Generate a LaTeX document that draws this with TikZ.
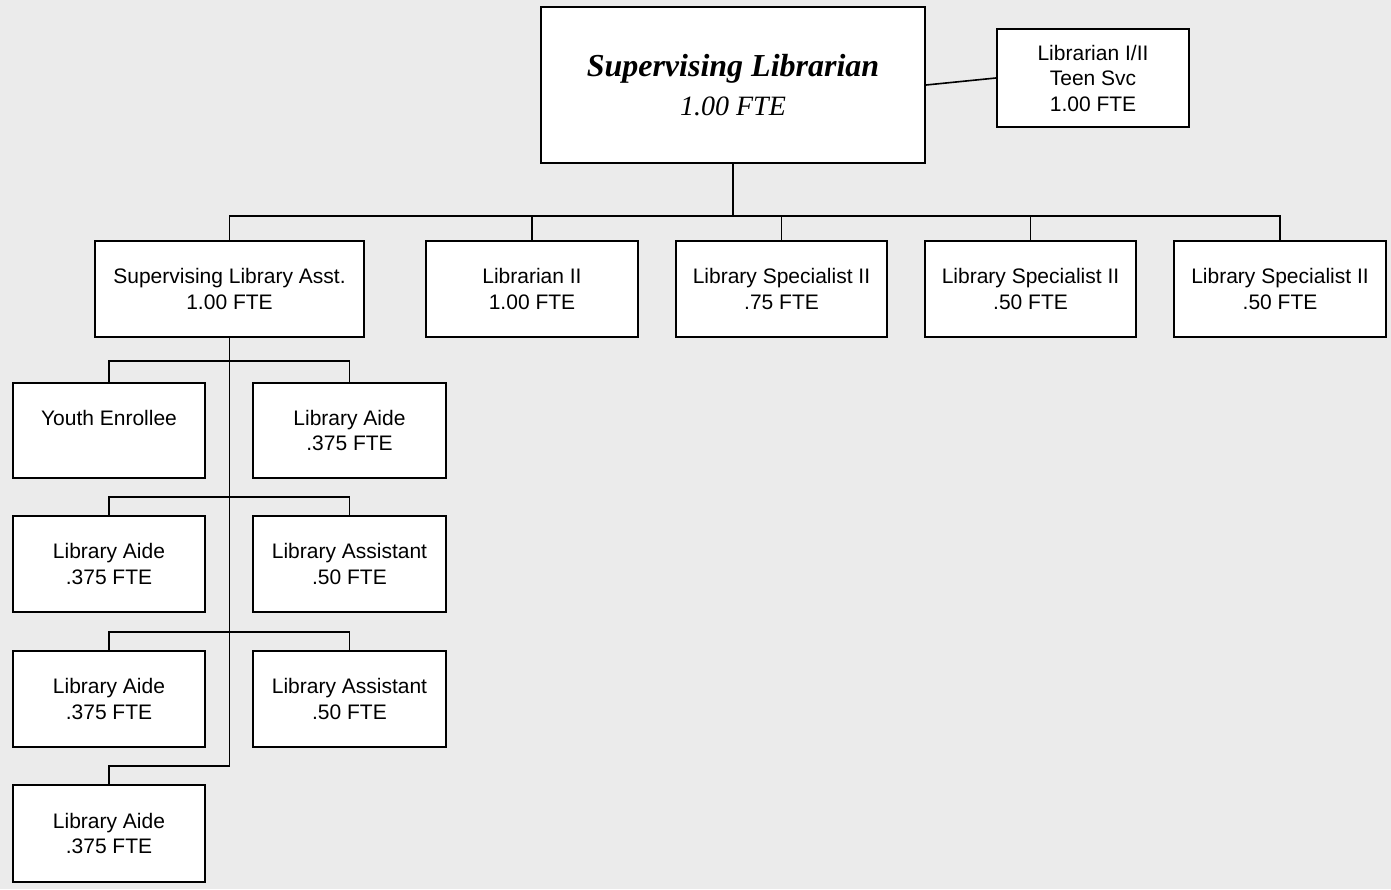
\documentclass[tikz,border=0pt]{standalone}
\usepackage{fontspec}
\setmainfont{Liberation Sans}
\newfontfamily\titleserif{Liberation Serif}
\begin{document}
\begin{tikzpicture}[x=1pt,y=-1pt,
  box/.style={draw=black,line width=2pt,fill=white,inner sep=0pt,align=center,
    font=\fontsize{21}{25.5}\selectfont},
  conn/.style={draw=black,line width=1.6pt}]
\fill[gray!16] (0,0) rectangle (1391,889);
\useasboundingbox (0,0) rectangle (1391,889);

% top
\node[box,minimum width=384pt,minimum height=156pt] (sl) at (733,85)
  {{\titleserif\bfseries\itshape\fontsize{32}{38}\selectfont Supervising Librarian}\\[14pt]
   {\titleserif\itshape\fontsize{28}{34}\selectfont 1.00 FTE}};
\node[box,minimum width=192pt,minimum height=98pt] (lt) at (1093,78)
  {Librarian I/II\\Teen Svc\\1.00 FTE};

% level 2
\node[box,minimum width=269pt,minimum height=96pt] (sla) at (229.5,289)
  {Supervising Library Asst.\\1.00 FTE};
\node[box,minimum width=212pt,minimum height=96pt] (l2) at (532,289)
  {Librarian II\\1.00 FTE};
\node[box,minimum width=211pt,minimum height=96pt] (ls1) at (781.5,289)
  {Library Specialist II\\.75 FTE};
\node[box,minimum width=211pt,minimum height=96pt] (ls2) at (1030.5,289)
  {Library Specialist II\\.50 FTE};
\node[box,minimum width=212pt,minimum height=96pt] (ls3) at (1280,289)
  {Library Specialist II\\.50 FTE};

% level 3
\node[box,minimum width=192pt,minimum height=95pt] (ye) at (109,430.5)
  {Youth Enrollee\\\mbox{}};
\node[box,minimum width=193pt,minimum height=95pt] (la1) at (349.5,430.5)
  {Library Aide\\.375 FTE};
\node[box,minimum width=192pt,minimum height=96pt] (la2) at (109,564)
  {Library Aide\\.375 FTE};
\node[box,minimum width=193pt,minimum height=96pt] (las1) at (349.5,564)
  {Library Assistant\\.50 FTE};
\node[box,minimum width=192pt,minimum height=96pt] (la3) at (109,699)
  {Library Aide\\.375 FTE};
\node[box,minimum width=193pt,minimum height=96pt] (las2) at (349.5,699)
  {Library Assistant\\.50 FTE};
\node[box,minimum width=192pt,minimum height=97pt] (la4) at (109,833.5)
  {Library Aide\\.375 FTE};

% bus coordinates
\coordinate (b1) at (0,216);
\coordinate (b2) at (0,361);
\coordinate (b3) at (0,497);
\coordinate (b4) at (0,632);
\coordinate (b5) at (0,766);

% connectors
\draw[conn] (sl.east) -- (lt.west);
\draw[conn] (sl.south) -- (sl.south |- b1);
\draw[conn] (sla.north) -- (sla.north |- b1) -- (ls3.north |- b1) -- (ls3.north);
\foreach \n in {l2,ls1,ls2} \draw[conn] (\n.north) -- (\n.north |- b1);

\draw[conn] (sla.south) -- (sla.south |- b5);
\draw[conn] (ye.north) -- (ye.north |- b2) -- (la1.north |- b2) -- (la1.north);
\draw[conn] (la2.north) -- (la2.north |- b3) -- (las1.north |- b3) -- (las1.north);
\draw[conn] (la3.north) -- (la3.north |- b4) -- (las2.north |- b4) -- (las2.north);
\draw[conn] (la4.north) -- (la4.north |- b5) -- (sla.south |- b5);
\end{tikzpicture}
\end{document}
